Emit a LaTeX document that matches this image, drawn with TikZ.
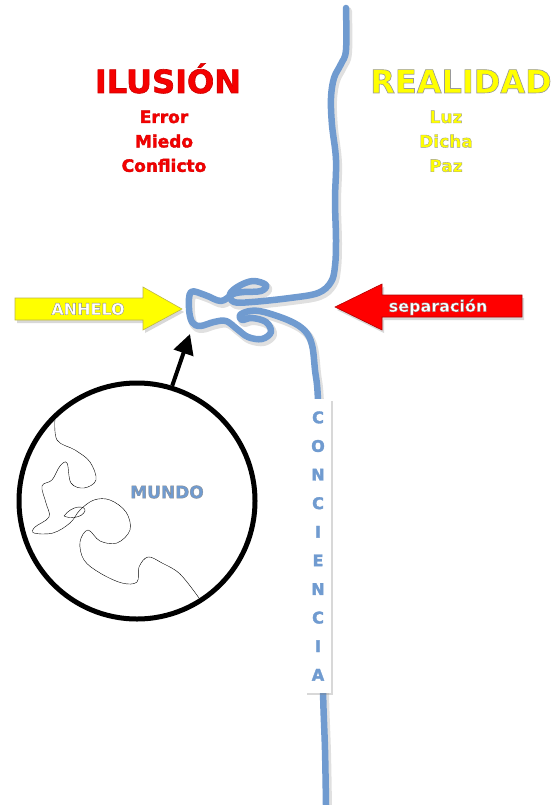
\documentclass[tikz,border=0pt]{standalone}
\usepackage{fontspec}
\setmainfont{DejaVu Sans}[BoldFeatures={FakeBold=2}]
\usetikzlibrary{positioning,shadows,arrows.meta}

\definecolor{riverblue}{RGB}{112,155,208}
\definecolor{ilured}{RGB}{245,0,0}
\definecolor{realyellow}{RGB}{255,255,0}

% bold text filled in #1 with a thin edge (#2 = pdf stroke colour)
\newcommand\edged[3]{{\color{#1}\special{pdf:code #2}#3}}

% the course of the river
\newcommand\riverline{plot[smooth, tension=.6] coordinates {
  (346,8) (346,50) (341,64) (334,78) (331,98) (332,125) (336,160) (335,200)
  (336,240) (335,266) (331,282) (318,293) (290,298) (252,302) (234,302)
  (230,294) (239,286) (253,281) (266,285) (261,291) (244,292) (233,294)
  (221,301) (205,295) (191,292) (189,308) (192,322) (200,326) (214,322)
  (226,321) (237,329) (248,337) (262,339) (271,332) (266,322) (252,318)
  (242,320) (240,315) (250,311) (264,312) (290,321) (305,331) (312,345)
  (315,370) (318,400) (321,500) (322,600) (323,690) (325,750) (326,805)}}

\begin{document}
\begin{tikzpicture}[x=1pt, y=-1pt, node distance=8pt]
  \tikzset{title/.style = {font=\bfseries\fontsize{32}{32}\selectfont,
      inner sep=0pt, anchor=base},
    item/.style = {font=\bfseries\fontsize{17}{20}\selectfont,
      inner sep=0pt, text height=13pt, text depth=3pt},
    river/.style = {draw=riverblue, line width=6.5pt,
      line cap=round, line join=round},
    rivershade/.style = {river, draw=black, opacity=.12, line width=8pt},
    bigarrow/.style = {line width=.6pt,
      drop shadow={opacity=.3, shadow xshift=2pt, shadow yshift=-3pt}},
    arrowtext/.style = {font=\bfseries\fontsize{16}{16}\selectfont,
      inner sep=0pt},
    conbox/.style = {fill=white, text=riverblue, align=center,
      font=\bfseries\fontsize{16}{28.6}\selectfont,
      minimum width=26pt, minimum height=294pt, inner sep=0pt,
      drop shadow={opacity=.3, shadow xshift=2pt, shadow yshift=-2pt}}}
  \useasboundingbox[fill=white] (0,0) rectangle (554,805);

  % titles
  \node[title] (ilusion) at (168,93) {\edged{ilured}{.8 0 0 RG}{ILUSIÓN}};
  \node[title] (realidad) at (461,93) {\edged{realyellow}{.6 G}{REALIDAD}};
  \node[item, anchor=base] (error) at (164,123) {\edged{ilured}{.8 0 0 RG}{Error}};
  \node[item, below=of error] (miedo) {\edged{ilured}{.8 0 0 RG}{Miedo}};
  \node[item, below=of miedo] (conflicto) {\edged{ilured}{.8 0 0 RG}{Conflicto}};
  \node[item, anchor=base] (luz) at (446,123) {\edged{realyellow}{.6 G}{Luz}};
  \node[item, below=of luz] (dicha) {\edged{realyellow}{.6 G}{Dicha}};
  \node[item, below=of dicha] (paz) {\edged{realyellow}{.6 G}{Paz}};

  % river
  \begin{scope}[shift={(2,3)}]
    \draw[rivershade] \riverline;
  \end{scope}
  \draw[river] \riverline;
  \coordinate (knot) at (190,334);

  \node[conbox] (conciencia) at (318,546)
    {C\\O\\N\\C\\I\\E\\N\\C\\I\\A};

  % side arrows
  \filldraw[bigarrow, fill=realyellow, draw=olive!60]
    (15,298) -- (143,298) -- (143,287) -- (182,309) -- (143,330)
    -- (143,320) -- (15,320) -- cycle;
  \node[arrowtext] (anhelo) at (88,309) {\edged{white}{.5 G}{ANHELO}};
  \filldraw[bigarrow, fill=red, draw=red!70!black]
    (522,295) -- (382,295) -- (382,284) -- (335,307) -- (382,330)
    -- (382,317) -- (522,317) -- cycle;
  \node[arrowtext] (separacion) at (438,307) {\edged{white}{.5 G}{separación}};

  % world
  \node[draw, circle, line width=5pt, minimum size=236pt, inner sep=0pt]
    (globe) at (137,501) {};
  \draw[line width=.4pt] plot[smooth, tension=.6] coordinates {
    (55,417) (57,440) (75,450) (90,462) (96,480) (84,488) (71,483) (67,463)
    (60,466) (52,480) (42,486) (46,503) (49,517) (35,527) (34,533) (53,533)
    (70,523) (80,510) (94,500) (110,500) (126,512) (130,530) (117,543)
    (100,541) (88,530) (80,542) (84,560) (100,573) (122,583) (137,582)
    (139,567) (148,557) (162,563) (180,574) (199,598)};
  \draw[line width=.4pt] (64,516) .. controls (72,505) and (86,505) .. (85,511)
    .. controls (82,518) and (70,519) .. (64,516);
  \node[font=\bfseries\fontsize{17}{17}\selectfont, inner sep=0pt]
    (mundo) at (167,492) {\edged{riverblue}{.55 G}{MUNDO}};
  \draw[line width=4pt, -{Triangle[length=20pt, width=20pt]}]
    (globe.73) -- (knot);
\end{tikzpicture}
\end{document}
